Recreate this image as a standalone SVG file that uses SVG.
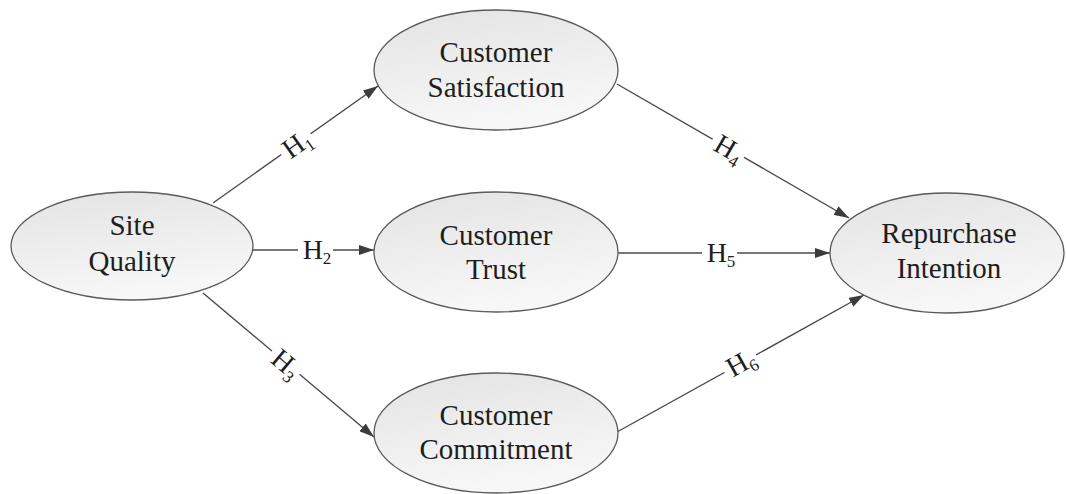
<svg xmlns="http://www.w3.org/2000/svg" width="1066" height="494" viewBox="0 0 1066 494">
  <style>
    .node ellipse { fill: url(#shade); stroke: #5a5a5a; stroke-width: 1.3; }
    .node text { font-family: "Liberation Serif", "Times New Roman", serif; font-size: 29px; fill: #1e1e1e; text-anchor: middle; }
    .edge { stroke: #4a4a4a; stroke-width: 1.4; fill: none; marker-end: url(#arrow); }
    .lbl text { font-family: "Liberation Serif", "Times New Roman", serif; font-size: 28px; fill: #1e1e1e; text-anchor: middle; }
    .lbl rect { fill: #ffffff; }
    .sub { font-size: 17px; }
  </style>
  <defs>
    <linearGradient id="shade" x1="0" y1="0" x2="0.3" y2="1">
      <stop offset="0" stop-color="#e3e3e3"/>
      <stop offset="1" stop-color="#f7f7f7"/>
    </linearGradient>
    <marker id="arrow" markerUnits="userSpaceOnUse" markerWidth="15" markerHeight="10" refX="15" refY="5" orient="auto">
      <path d="M0,0 L15,5 L0,10 z" fill="#3c3c3c"/>
    </marker>
  </defs>
  <rect width="1066" height="494" fill="#ffffff"/>

  <!-- connectors with their hypothesis labels -->
  <g id="connectors">
    <line class="edge" x1="213" y1="203" x2="378" y2="86"/>
    <line class="edge" x1="253" y1="250" x2="374" y2="250"/>
    <line class="edge" x1="203" y1="293" x2="374" y2="437"/>
    <line class="edge" x1="617" y1="84" x2="849" y2="218"/>
    <line class="edge" x1="618" y1="253" x2="830" y2="253"/>
    <line class="edge" x1="617" y1="432" x2="864" y2="295"/>

    <g class="lbl" transform="translate(297,144) rotate(-35.3)">
      <rect x="-19" y="-12" width="36" height="24"/>
      <text x="0" y="9">H<tspan class="sub" dy="5">1</tspan></text>
    </g>
    <g class="lbl" transform="translate(317,250)">
      <rect x="-19" y="-12" width="35" height="24"/>
      <text x="0" y="9">H<tspan class="sub" dy="5">2</tspan></text>
    </g>
    <g class="lbl" transform="translate(286,364) rotate(40.3)">
      <rect x="-19" y="-12" width="36" height="24"/>
      <text x="0" y="9">H<tspan class="sub" dy="5">3</tspan></text>
    </g>
    <g class="lbl" transform="translate(729,149) rotate(30.2)">
      <rect x="-19" y="-12" width="36" height="24"/>
      <text x="0" y="9">H<tspan class="sub" dy="5">4</tspan></text>
    </g>
    <g class="lbl" transform="translate(721,253)">
      <rect x="-19" y="-12" width="35" height="24"/>
      <text x="0" y="9">H<tspan class="sub" dy="5">5</tspan></text>
    </g>
    <g class="lbl" transform="translate(741,363) rotate(-29.2)">
      <rect x="-19" y="-12" width="36" height="24"/>
      <text x="0" y="9">H<tspan class="sub" dy="5">6</tspan></text>
    </g>
  </g>

  <g id="site-quality" class="node">
    <ellipse cx="132" cy="246" rx="121" ry="54"/>
    <text x="132" y="235">Site</text>
    <text x="132" y="271">Quality</text>
  </g>
  <g id="customer-satisfaction" class="node">
    <ellipse cx="496" cy="70" rx="122" ry="60"/>
    <text x="496" y="62">Customer</text>
    <text x="496" y="97">Satisfaction</text>
  </g>
  <g id="customer-trust" class="node">
    <ellipse cx="496" cy="252" rx="122" ry="60"/>
    <text x="496" y="245">Customer</text>
    <text x="496" y="279">Trust</text>
  </g>
  <g id="customer-commitment" class="node">
    <ellipse cx="496" cy="433" rx="122" ry="60"/>
    <text x="496" y="425">Customer</text>
    <text x="496" y="459">Commitment</text>
  </g>
  <g id="repurchase-intention" class="node">
    <ellipse cx="947" cy="253" rx="117" ry="60"/>
    <text x="949" y="243">Repurchase</text>
    <text x="949" y="278">Intention</text>
  </g>
</svg>
